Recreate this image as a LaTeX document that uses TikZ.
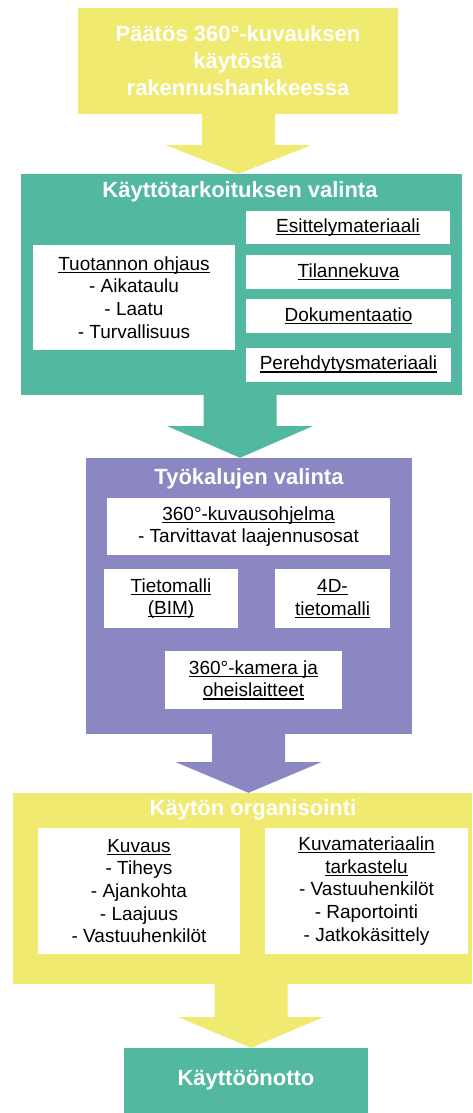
\documentclass[tikz,border=0pt]{standalone}
\usepackage{fontspec}
\setmainfont{Liberation Sans}
\usetikzlibrary{calc}
\definecolor{cyel}{RGB}{240,234,112}
\definecolor{cgrn}{RGB}{82,184,160}
\definecolor{cpur}{RGB}{139,135,194}
\newcommand{\myul}[1]{\setbox0\hbox{#1}\rlap{\rule[-2.6pt]{\wd0}{1.1pt}}\box0}
\newcommand{\blockarrow}[5]{%
  \coordinate (ba) at (#3,#4);
  \fill[#5] ($(ba |- #1.south)+(-36.5,0)$) -- ($(ba |- #1.south)+(36.5,0)$)
    -- ($(ba)+(36.5,0)$) -- ($(ba)+(73,0)$) -- (ba |- #2.north)
    -- ($(ba)+(-73,0)$) -- ($(ba)+(-36.5,0)$) -- cycle;}
\begin{document}
\begin{tikzpicture}[x=1pt,y=-1pt,
  panel/.style={fill=#1, draw=none, inner sep=0pt},
  titletxt/.style={text=white, font=\fontsize{22}{27}\selectfont\bfseries, align=center, inner sep=0pt},
  wbox/.style={fill=white, draw=none, inner sep=0pt, align=center, font=\fontsize{19}{22.7}\selectfont}]
\useasboundingbox (0,0) rectangle (473,1113);
% panels
\node[panel=cyel, minimum width=320, minimum height=106, titletxt] (top) at (238,61)
  {Päätös 360°-kuvauksen\\käytöstä\\rakennushankkeessa};
\node[panel=cgrn, minimum width=441, minimum height=221] (grn) at (241.5,284.5) {};
\node[panel=cpur, minimum width=326, minimum height=276] (pur) at (249,596) {};
\node[panel=cyel, minimum width=459, minimum height=191] (org) at (242.5,888.5) {};
\node[panel=cgrn, minimum width=244, minimum height=65, titletxt] (fin) at (246,1080.5) {Käyttöönotto};
% arrows
\blockarrow{top}{grn}{238.5}{145}{cyel}
\blockarrow{grn}{pur}{240}{426}{cgrn}
\blockarrow{pur}{org}{248.5}{762}{cpur}
\blockarrow{org}{fin}{251}{1017}{cyel}
% titles
\node[titletxt] (tgrn) at (240,192) {Käyttötarkoituksen valinta};
\node[titletxt] (tpur) at (249,479) {Työkalujen valinta};
\node[titletxt] (torg) at (253,810) {Käytön organisointi};
% green contents
\node[wbox, minimum width=202, minimum height=105] (tuot) at (134,297.5)
  {\myul{Tuotannon ohjaus}\\- Aikataulu\\- Laatu\\- Turvallisuus};
\node[wbox, minimum width=204, minimum height=33] (esit) at (348,227.5) {\myul{Esittelymateriaali}};
\node[wbox, minimum width=205, minimum height=34] (tila) at (348.5,272) {\myul{Tilannekuva}};
\node[wbox, minimum width=205, minimum height=34] (doku) at (348.5,316) {\myul{Dokumentaatio}};
\node[wbox, minimum width=205, minimum height=34] (pere) at (348.5,365) {\myul{Perehdytysmateriaali}};
% purple contents
\node[wbox, minimum width=283, minimum height=57] (kuv) at (248.5,526.5)
  {\myul{360°-kuvausohjelma}\\- Tarvittavat laajennusosat};
\node[wbox, minimum width=134, minimum height=59] (tieto) at (171,598.5)
  {\myul{Tietomalli}\\\myul{(BIM)}};
\node[wbox, minimum width=115, minimum height=59] (dfour) at (332.5,598.5)
  {\myul{4D-}\\\myul{tietomalli}};
\node[wbox, minimum width=177, minimum height=58] (kam) at (253.5,680)
  {\myul{360°-kamera ja}\\\myul{oheislaitteet}};
% yellow contents
\node[wbox, minimum width=202, minimum height=126] (kuvaus) at (139,891)
  {\myul{Kuvaus}\\- Tiheys\\- Ajankohta\\- Laajuus\\- Vastuuhenkilöt};
\node[wbox, minimum width=203, minimum height=126] (kuvam) at (366.5,891)
  {\myul{Kuvamateriaalin}\\\myul{tarkastelu}\\- Vastuuhenkilöt\\- Raportointi\\- Jatkokäsittely};
\end{tikzpicture}
\end{document}
